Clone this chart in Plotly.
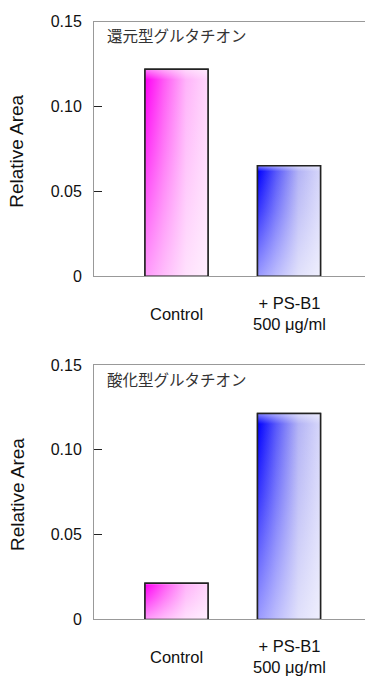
import plotly.graph_objects as go

categories = ["Control", "+ PS-B1<br>500 μg/ml"]
panel_titles = ["還元型グルタチオン", "酸化型グルタチオン"]
reduced_values = [0.122, 0.065]
oxidized_values = [0.0213, 0.1213]
tick_vals = [0, 0.05, 0.10, 0.15]
tick_text = ["0", "0.05", "0.10", "0.15"]
y_title = "Relative Area"

panels = [reduced_values, oxidized_values]

W, H = 365, 684
L = 94
# pixel positions of plot areas (top, bottom)
panel_px = [(14, 275), (366, 627)]

BAR_W = 0.56
bar_styles = [
    dict(scale=[[0, "rgb(255,0,245)"], [0.3, "rgb(255,90,245)"], [0.65, "rgb(255,180,250)"], [1, "rgb(255,215,252)"]],
         base="rgb(255,200,248)"),
    dict(scale=[[0, "rgb(0,0,255)"], [0.3, "rgb(90,90,250)"], [0.65, "rgb(180,180,245)"], [1, "rgb(215,215,250)"]],
         base="rgb(205,205,245)"),
]

fig = go.Figure()
annotations = []
layout_axes = {}

for p, vals in enumerate(panels):
    xa = "x" if p == 0 else "x2"
    ya = "y" if p == 0 else "y2"
    xs = list(range(len(categories)))
    fig.add_trace(go.Bar(
        x=xs, y=vals, width=BAR_W, xaxis=xa, yaxis=ya,
        marker=dict(color=[s["base"] for s in bar_styles],
                    line=dict(color="#222", width=1.5)),
        showlegend=False, hoverinfo="skip"))
    for i, v in enumerate(vals):
        s = bar_styles[i]
        px = [i - BAR_W / 2, i + BAR_W / 2, i + BAR_W / 2, i - BAR_W / 2, i - BAR_W / 2]
        py = [0, 0, v, v, 0]
        fig.add_trace(go.Scatter(
            x=px, y=py, xaxis=xa, yaxis=ya, mode="lines", fill="toself",
            fillgradient=dict(type="horizontal", colorscale=s["scale"]),
            line=dict(width=0), showlegend=False, hoverinfo="skip"))
        fig.add_trace(go.Scatter(
            x=px, y=py, xaxis=xa, yaxis=ya, mode="lines", fill="toself",
            fillgradient=dict(type="vertical",
                              colorscale=[[0, "rgba(255,255,255,0.6)"], [0.6, "rgba(255,255,255,0.2)"],
                                          [0.95, "rgba(255,255,255,0)"], [1, "rgba(255,255,255,0.5)"]]),
            line=dict(color="#222", width=1.5), showlegend=False, hoverinfo="skip"))

    top_px, bot_px = panel_px[p]
    dom = [(H - bot_px) / H, (H - top_px) / H]
    xkey = "xaxis" if p == 0 else "xaxis2"
    ykey = "yaxis" if p == 0 else "yaxis2"
    px_per_unit = 112.5
    x_left = 0 - (176.5 - L) / px_per_unit
    x_right = x_left + (W - L) / px_per_unit
    layout_axes[xkey] = dict(
        domain=[0, 1], anchor=ya, range=[x_left, x_right],
        showline=True, linecolor="#999", linewidth=1, mirror=True,
        showgrid=False, zeroline=False, showticklabels=False, ticks="")
    layout_axes[ykey] = dict(
        domain=dom, anchor=xa, range=[0, 0.15],
        tickvals=tick_vals, ticktext=tick_text, ticks="inside", ticklen=8,
        tickcolor="#222", tickwidth=1, ticklabelstandoff=8,
        tickfont=dict(family="Liberation Sans, Arial", size=16, color="#111"),
        showline=True, linecolor="#999", linewidth=1, mirror=False,
        showgrid=False, zeroline=False)

    xd = xa + " domain"
    yd = ya + " domain"
    plot_h = bot_px - top_px
    annotations.append(dict(
        text=panel_titles[p], xref=xd, yref=yd,
        x=(105 - L) / (W - L), y=(bot_px - (top_px + 14)) / plot_h,
        xanchor="left", yanchor="middle", showarrow=False,
        font=dict(family="Noto Sans CJK JP", size=15.5, color="#333")))
    annotations.append(dict(
        text=y_title, xref="paper", yref=yd, textangle=-90,
        x=(17 - L) / (W - L), y=(bot_px - (top_px + bot_px) / 2 - 3) / plot_h,
        xanchor="center", yanchor="middle", showarrow=False,
        font=dict(family="Liberation Sans, Arial", size=19, color="#111")))
    for i, c in enumerate(categories):
        annotations.append(dict(
            text=c, xref=xa, yref=yd, x=i, y=-(38.5) / plot_h,
            xanchor="center", yanchor="middle", showarrow=False,
            font=dict(family="Liberation Sans, Arial", size=16.5, color="#111")))

fig.update_layout(
    width=W, height=H,
    margin=dict(l=L, r=0, t=0, b=0),
    paper_bgcolor="white", plot_bgcolor="white",
    annotations=annotations, showlegend=False,
    **layout_axes)

fig.write_html("out.html")
